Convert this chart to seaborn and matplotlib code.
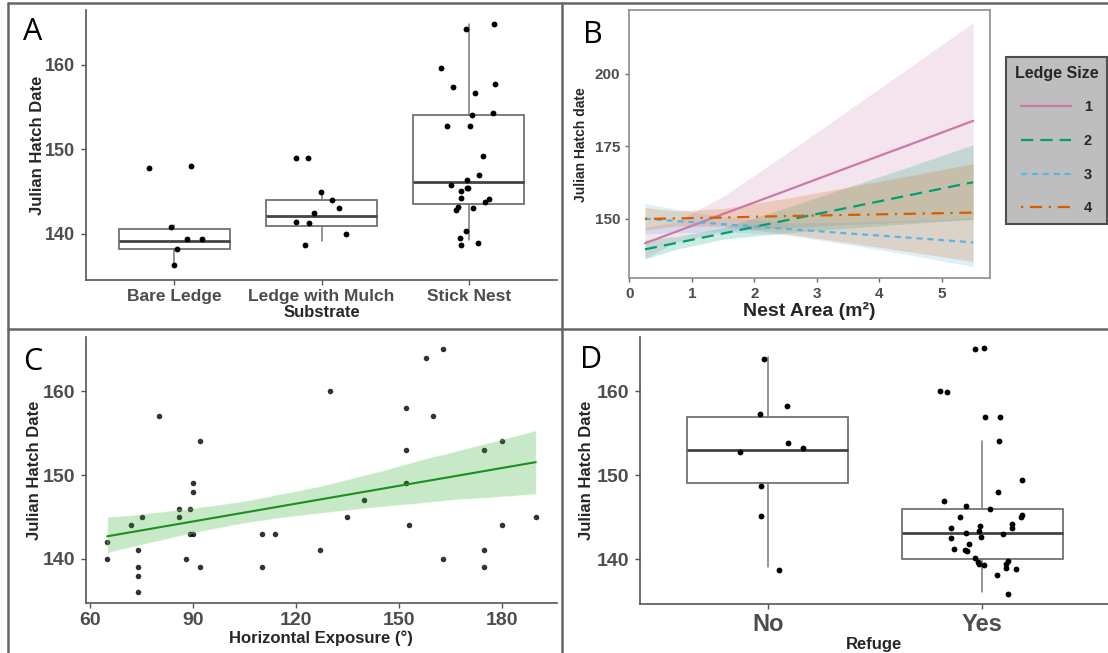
import numpy as np
import pandas as pd
import matplotlib
matplotlib.use("Agg")
import matplotlib.pyplot as plt
from matplotlib.lines import Line2D
from matplotlib.collections import PolyCollection
import seaborn as sns

# ---------------- data ----------------
# Panel A: hatch date by substrate (jittered points + box stats)
substrates = ["Bare Ledge", "Ledge with Mulch", "Stick Nest"]
bare_ledge = [147.8, 148.0, 140.8, 139.3, 139.3, 138.2, 136.3]
ledge_mulch = [149.0, 149.0, 144.9, 144.0, 143.0, 142.4, 141.4, 141.2, 139.9, 138.7]
stick_nest = [164.2, 164.9, 159.6, 156.7, 157.7, 157.4, 154.1, 154.3, 152.8, 152.7,
              149.2, 146.9, 146.3, 145.8, 145.4, 145.1, 145.4, 144.2, 144.1, 143.8,
              143.2, 143.0, 142.8, 140.3, 139.5, 138.9, 138.6]
sub_whislo = [136.1, 139.1, 139.2]
sub_q1 = [138.2, 140.9, 143.55]
sub_med = [139.1, 142.1, 146.1]
sub_q3 = [140.6, 144.0, 154.0]
sub_whishi = [141.0, 145.0, 164.9]

# Panel B: fitted hatch date vs nest area per ledge size
nest_area = [0.25, 0.75, 1.5, 2.5, 3.5, 4.5, 5.5]
ledge_sizes = ["1", "2", "3", "4"]
fit_1 = [141.5, 145.5, 151.6, 159.6, 167.7, 175.7, 183.8]
lo_1 = [136.2, 142.0, 145.5, 146.9, 148.0, 148.9, 149.9]
hi_1 = [146.8, 149.0, 157.7, 172.3, 187.4, 202.5, 217.7]
fit_2 = [139.4, 141.6, 144.9, 149.4, 153.8, 158.2, 162.6]
lo_2 = [136.1, 139.4, 142.9, 145.1, 146.7, 148.3, 149.7]
hi_2 = [142.7, 143.8, 146.9, 153.7, 160.9, 168.1, 175.5]
fit_3 = [150.0, 149.2, 148.1, 146.5, 144.9, 143.4, 141.8]
lo_3 = [144.8, 145.1, 145.5, 144.4, 141.1, 137.4, 133.4]
hi_3 = [155.2, 153.3, 150.7, 148.6, 148.7, 149.4, 150.2]
fit_4 = [149.9, 150.1, 150.4, 150.9, 151.3, 151.7, 152.1]
lo_4 = [146.0, 147.5, 147.3, 144.8, 141.7, 138.5, 135.2]
hi_4 = [153.8, 152.7, 153.5, 157.0, 160.9, 164.9, 169.0]

# Panel C: hatch date vs horizontal exposure
exposure = [65, 65, 72, 75, 74, 74, 74, 74, 80, 86, 86, 89, 90, 90, 89, 90, 88, 92, 92,
            110, 110, 114, 130, 135, 140, 127, 152, 152, 152, 153, 158, 163, 160, 163,
            175, 175, 175, 180, 180, 190]
hatch_c = [142, 140, 144, 145, 141, 139, 138, 136, 157, 146, 145, 146, 149, 148, 143, 143,
           140, 154, 139, 143, 139, 143, 160, 145, 147, 141, 158, 153, 149, 144, 164, 165,
           157, 140, 153, 141, 139, 154, 144, 145]

# Panel D: hatch date by refuge
refuge = ["No", "Yes"]
refuge_no = [163.8, 158.3, 157.3, 153.2, 152.8, 153.9, 148.7, 145.2, 138.7]
refuge_yes = [165.1, 165.0, 160.0, 159.9, 157.0, 156.9, 154.1, 149.5, 148.0, 147.0,
              146.3, 146.0, 145.1, 145.3, 145.1, 144.2, 144.0, 143.7, 143.7, 143.2,
              143.4, 143.0, 142.7, 142.6, 141.8, 141.0, 141.1, 141.3, 140.2, 139.7,
              139.4, 139.8, 139.3, 139.4, 139.0, 138.9, 138.2, 135.9]
ref_whislo = [139.1, 136.1]
ref_q1 = [149.1, 140.0]
ref_med = [153.0, 143.1]
ref_q3 = [157.0, 146.0]
ref_whishi = [164.1, 154.1]

# ---------------- style ----------------
sns.set_style("white")
plt.rcParams["font.family"] = ["Liberation Sans", "DejaVu Sans"]
np.random.seed(7)

W, H = 1108, 653
fig = plt.figure(figsize=(W / 100, H / 100), dpi=100)


def px_axes(left, top, right, bottom):
    return fig.add_axes([left / W, 1 - bottom / H, (right - left) / W, (bottom - top) / H])


GRAY_TXT = "#4D4D4D"
AX_COL = "#555555"


def classic(ax, tick_size=13):
    for s in ["top", "right"]:
        ax.spines[s].set_visible(False)
    for s in ["left", "bottom"]:
        ax.spines[s].set_color(AX_COL)
        ax.spines[s].set_linewidth(1.2)
    ax.tick_params(axis="both", colors=AX_COL, labelcolor=GRAY_TXT, length=3.5,
                   width=1.0, labelsize=tick_size, pad=3, left=True, bottom=True)
    ax.tick_params(axis="y", pad=4.5)
    for lbl in ax.get_xticklabels() + ax.get_yticklabels():
        lbl.set_fontweight("bold")


def boxes(ax, lo, q1, med, q3, hi):
    stats = [dict(whislo=a, q1=b, med=c, q3=d, whishi=e, fliers=[])
             for a, b, c, d, e in zip(lo, q1, med, q3, hi)]
    ax.bxp(stats, positions=range(len(stats)), widths=0.75, showcaps=False,
           showfliers=False, patch_artist=True, manage_ticks=False,
           boxprops=dict(facecolor="white", edgecolor="#666666", linewidth=1.2),
           medianprops=dict(color="#444444", linewidth=2.0),
           whiskerprops=dict(color="#777777", linewidth=1.1))


# ---------------- panel A ----------------
axA = px_axes(86, 10, 557, 280)
dfA = pd.DataFrame({
    "Substrate": ["Bare Ledge"] * len(bare_ledge) + ["Ledge with Mulch"] * len(ledge_mulch)
                 + ["Stick Nest"] * len(stick_nest),
    "date": bare_ledge + ledge_mulch + stick_nest,
})
boxes(axA, sub_whislo, sub_q1, sub_med, sub_q3, sub_whishi)
sns.stripplot(data=dfA, x="Substrate", y="date", order=substrates, jitter=0.2,
              color="black", size=4.2, ax=axA, zorder=3)
axA.set_xlim(-0.6, 2.6)
axA.set_ylim(134.5, 166.5)
axA.set_yticks([140, 150, 160])
axA.set_xlabel("Substrate", fontsize=12, fontweight="bold", labelpad=1)
axA.set_ylabel("Julian Hatch Date", fontsize=12, fontweight="bold", labelpad=0)
classic(axA)
axA.tick_params(axis="x", labelsize=12.5)
for lbl in axA.get_xticklabels():
    lbl.set_fontweight("bold")

# ---------------- panel B ----------------
axB = px_axes(628.5, 10, 990, 278.3)
colors = {"1": "#CC79A7", "2": "#009E73", "3": "#56B4E9", "4": "#D55E00"}
dashes = {"1": "", "2": (5.5, 3.2), "3": (2.7, 2.2), "4": (1, 3, 5.5, 3)}
los = [lo_1, lo_2, lo_3, lo_4]
his = [hi_1, hi_2, hi_3, hi_4]
dfB = pd.DataFrame({
    "Nest Area": nest_area * 4,
    "date": fit_1 + fit_2 + fit_3 + fit_4,
    "Ledge Size": [s for s in ledge_sizes for _ in nest_area],
})
for s, lo, hi in zip(ledge_sizes, los, his):
    axB.fill_between(nest_area, lo, hi, color=colors[s], alpha=0.2, lw=0)
sns.lineplot(data=dfB, x="Nest Area", y="date", hue="Ledge Size", style="Ledge Size",
             palette=colors, dashes=dashes, lw=1.6, ax=axB, legend=False)
axB.set_xlim(-0.0125, 5.77)
axB.set_ylim(129.4, 222.1)
axB.set_xticks([0, 1, 2, 3, 4, 5])
axB.set_yticks([150, 175, 200])
axB.set_xlabel("Nest Area (m²)", fontsize=14, fontweight="bold", labelpad=1)
axB.set_ylabel("Julian Hatch date", fontsize=10, fontweight="bold", labelpad=5)
for s in axB.spines.values():
    s.set_color("#8C8C8C")
    s.set_linewidth(1.2)
axB.tick_params(axis="both", colors="#666666", labelcolor=GRAY_TXT, length=3,
                width=1.0, labelsize=11, pad=3, left=True, bottom=True)
for lbl in axB.get_xticklabels() + axB.get_yticklabels():
    lbl.set_fontweight("bold")
handles = [Line2D([], [], color=colors[s], lw=1.6,
                  linestyle="-" if s == "1" else (0, dashes[s])) for s in ledge_sizes]
leg = fig.legend(handles, ledge_sizes, title="Ledge Size", loc="upper left",
                 bbox_to_anchor=(1006 / W, 1 - 57 / H), borderaxespad=0,
                 frameon=True, fancybox=False, framealpha=1, facecolor="#BEBEBE",
                 edgecolor="#4D4D4D", prop=dict(weight="bold", size=10.5),
                 handlelength=3.4, labelspacing=1.35, borderpad=0.6,
                 handletextpad=0.9)
leg.get_title().set_fontweight("bold")
leg.get_title().set_fontsize(11.5)
leg.get_frame().set_linewidth(1.5)

# ---------------- panel C ----------------
axC = px_axes(86, 336.7, 556.7, 603.3)
sns.regplot(x=exposure, y=hatch_c, ax=axC, ci=85, seed=3, color="#1E8F1E",
            scatter_kws=dict(color="black", s=16, linewidths=0, zorder=2),
            line_kws=dict(lw=1.5, zorder=4))
for coll in axC.collections:
    if isinstance(coll, PolyCollection):
        coll.set_facecolor("#22AA22")
        coll.set_alpha(0.25)
        coll.set_zorder(3)
axC.set_xlim(58.8, 196.1)
axC.set_ylim(134.7, 166.5)
axC.set_xticks([60, 90, 120, 150, 180])
axC.set_yticks([140, 150, 160])
axC.set_xlabel("Horizontal Exposure (°)", fontsize=12, fontweight="bold", labelpad=1)
axC.set_ylabel("Julian Hatch Date", fontsize=12, fontweight="bold", labelpad=0)
classic(axC, tick_size=14)

# ---------------- panel D ----------------
axD = px_axes(640, 336.7, 1108, 604)
dfD = pd.DataFrame({
    "Refuge": ["No"] * len(refuge_no) + ["Yes"] * len(refuge_yes),
    "date": refuge_no + refuge_yes,
})
boxes(axD, ref_whislo, ref_q1, ref_med, ref_q3, ref_whishi)
sns.stripplot(data=dfD, x="Refuge", y="date", order=refuge, jitter=0.2,
              color="black", size=4.2, ax=axD, zorder=3)
axD.set_xlim(-0.595, 1.585)
axD.set_ylim(134.7, 166.5)
axD.set_yticks([140, 150, 160])
axD.set_xlabel("Refuge", fontsize=12, fontweight="bold", labelpad=1)
axD.set_ylabel("Julian Hatch Date", fontsize=12, fontweight="bold", labelpad=2)
classic(axD, tick_size=14)
axD.tick_params(axis="x", labelsize=17)
for lbl in axD.get_xticklabels():
    lbl.set_fontweight("bold")

# ---------------- panel letters & frame ----------------
for letter, x, y in [("A", 33, 32), ("B", 593, 35), ("C", 33, 362), ("D", 591, 360)]:
    fig.text(x / W, 1 - y / H, letter, fontsize=22, family=["Open Sans", "DejaVu Sans"],
             ha="center", va="center", color="black")

line_kw = dict(transform=fig.transFigure, color="#666666", lw=1.8)
fig.add_artist(Line2D([7.5 / W, 1], [1 - 2.5 / H, 1 - 2.5 / H], **line_kw))
fig.add_artist(Line2D([7.5 / W, 7.5 / W], [0, 1 - 2.5 / H], **line_kw))
fig.add_artist(Line2D([562.3 / W, 562.3 / W], [0, 1 - 2.5 / H], **line_kw))
fig.add_artist(Line2D([7.5 / W, 1], [1 - 329.3 / H, 1 - 329.3 / H], **line_kw))

fig.savefig("out.png", dpi=100)
